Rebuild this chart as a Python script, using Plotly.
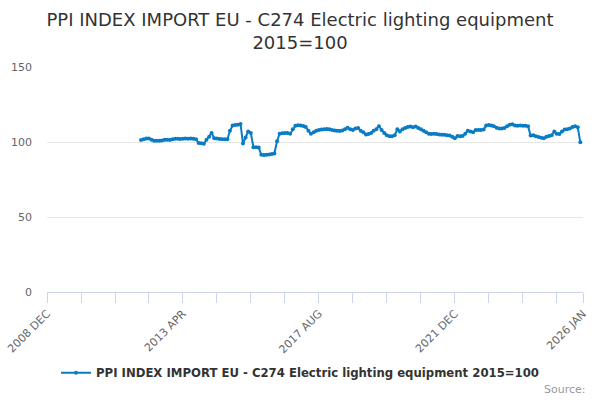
import plotly.graph_objects as go
import pandas as pd

# monthly index values, first point 2011 DEC
start_month = "2011-12-01"
ppi_values = [
    101.3, 101.8, 102.3, 102.3, 101.5, 100.9, 100.8, 100.8, 101.0, 101.5,
    101.5, 101.4, 101.8, 102.2, 102.2, 102.0, 102.2, 102.3, 102.2, 102.4,
    102.2, 101.8, 99.3, 99.2, 98.9, 101.5, 103.5, 106.0, 102.5, 102.3,
    102.0, 101.8, 101.8, 101.8, 107.5, 111.0, 111.3, 111.5, 112.0, 99.0,
    103.0, 107.0, 106.0, 96.5, 96.5, 96.3, 91.5, 91.3, 91.5, 91.7,
    92.0, 92.3, 100.5, 105.5, 105.8, 106.0, 106.0, 105.5, 108.5, 110.8,
    111.2, 111.0, 110.6, 110.0, 107.5, 105.5, 106.5, 107.5, 108.0, 108.3,
    108.5, 108.7, 108.5, 108.0, 107.7, 107.5, 107.3, 107.7, 108.5, 109.5,
    108.5, 108.0, 109.0, 109.3, 107.5, 106.5, 105.0, 105.3, 106.0, 107.5,
    108.5, 110.5, 108.0, 106.0, 104.5, 103.8, 103.8, 104.5, 108.5, 107.0,
    108.5, 109.3, 110.0, 110.3, 109.8, 110.3, 109.3, 108.5, 107.5, 106.5,
    105.5, 105.3, 105.5, 105.3, 105.0, 104.8, 104.8, 104.5, 104.3, 103.5,
    102.5, 104.0, 103.8, 104.0, 105.5, 107.5, 107.0, 106.5, 108.0, 108.0,
    108.0, 108.3, 111.0, 111.3, 111.0, 110.5, 109.5, 109.0, 109.0, 109.3,
    110.5, 111.5, 111.8, 111.0, 110.8, 111.0, 110.8, 110.8, 110.5, 104.3,
    104.5, 103.8, 103.3, 102.8, 102.5, 103.5, 104.0, 104.5, 107.0, 105.5,
    105.3, 107.0, 108.3, 108.5, 109.0, 110.0, 110.5, 109.8, 99.8,
]
months = pd.date_range(start_month, periods=len(ppi_values), freq="MS")

label_dates = ["2008-12-01", "2013-04-01", "2017-08-01", "2021-12-01", "2026-01-01"]
label_text = ["2008 DEC", "2013 APR", "2017 AUG", "2021 DEC", "2026 JAN"]
minor_dates = ["2010-01-01", "2011-02-01", "2012-03-01", "2014-05-01", "2015-06-01",
               "2016-07-01", "2018-09-01", "2019-10-01", "2020-11-01", "2023-01-01",
               "2024-02-01", "2025-03-01"]

series_name = "PPI INDEX IMPORT EU - C274 Electric lighting equipment 2015=100"
line_color = "#0a7cc4"

fig = go.Figure()
fig.add_trace(go.Scatter(
    x=months, y=ppi_values, name=series_name, mode="lines+markers",
    line=dict(color=line_color, width=2),
    marker=dict(color=line_color, size=4),
))

fig.update_layout(
    width=600, height=400,
    paper_bgcolor="white", plot_bgcolor="white",
    margin=dict(l=47, r=17, t=67, b=108, autoexpand=False),
    font=dict(family="DejaVu Sans", color="#666666", size=11),
    title=dict(
        text="PPI INDEX IMPORT EU - C274 Electric lighting equipment<br>2015=100",
        x=0.5, xanchor="center", xref="container",
        y=0.935, yanchor="middle", yref="container",
        font=dict(size=18, color="#333333"),
    ),
    showlegend=True,
    legend=dict(
        orientation="h", x=0.5, xanchor="center", xref="container",
        y=0.068, yanchor="middle", yref="container", itemwidth=30,
        font=dict(size=11.7, color="#333333", weight="bold"),
    ),
    annotations=[dict(
        text="Source:", xref="paper", yref="paper", x=1.01, y=-0.432,
        xanchor="right", yanchor="middle", showarrow=False,
        font=dict(size=11, color="#999999"),
    )],
)

fig.update_xaxes(
    type="date", range=["2008-12-01", "2026-01-01"], automargin=False,
    tickmode="array", tickvals=label_dates, ticktext=label_text,
    tickangle=-45, ticks="outside", ticklen=10, tickcolor="#ccd6eb",
    showgrid=False, showline=True, linecolor="#ccd6eb", linewidth=1,
    minor=dict(tickmode="array", tickvals=minor_dates, ticks="outside",
               ticklen=10, tickcolor="#ccd6eb", showgrid=False),
)
fig.update_yaxes(
    range=[0, 150], tickvals=[0, 50, 100, 150], automargin=False,
    showgrid=True, gridcolor="#e6e6e6", zeroline=False, showline=False,
    ticks="", ticklabelstandoff=14,
)

# drop the page's default body margin so the 600x400 figure fills the window
fig.write_html("out.html", config={"displayModeBar": False},
               post_script="document.body.style.margin = '0';")
